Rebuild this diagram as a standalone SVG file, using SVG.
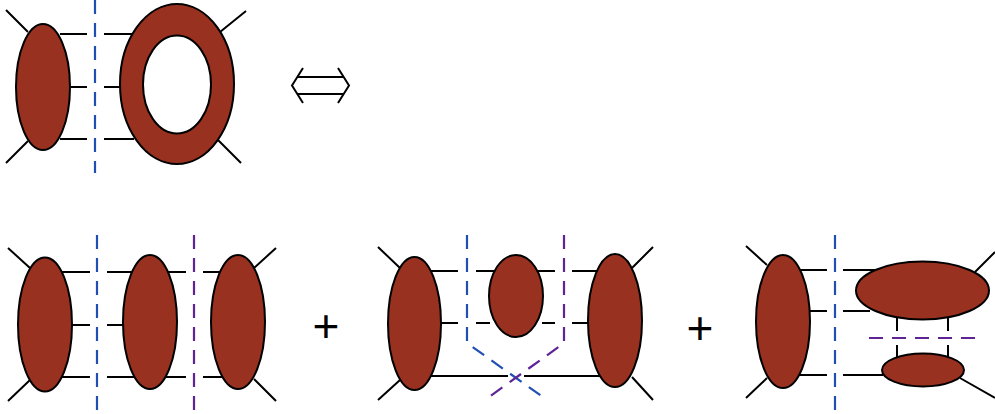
<svg xmlns="http://www.w3.org/2000/svg" width="995" height="414" viewBox="0 0 995 414">
<style>
.blob{fill:#98311f;stroke:#000;stroke-width:2}
.hole{fill:#fff;stroke:#000;stroke-width:2}
.ln{stroke:#000;stroke-width:2;fill:none}
.cb{stroke:#1f4fb3;stroke-width:2.2;fill:none;stroke-dasharray:14 9}
.cp{stroke:#5e2496;stroke-width:2.2;fill:none;stroke-dasharray:14 9}
.plus{font-family:"Liberation Sans",Arial,sans-serif;font-size:46px;fill:#000;text-anchor:middle}
</style>
<rect width="995" height="414" fill="#fff"/>
<g id="connectors">
<!-- top diagram -->
<path class="ln" d="M6 10L28 32M28 141L6 163M220 32L246 11M218 140L241 163"/>
<path class="ln" d="M60 34H87M104 34H134M69 87H87M104 87H121M60 139H87M104 139H134"/>
<!-- equivalence arrow -->
<path class="ln" d="M303 68L292 85.5L303 103M338 68L349 85.5L338 103M297 77H344M297 94H344"/>
<!-- bottom left -->
<path class="ln" d="M8 248L30 268M30 380L8 401M254 268L276 248M254 379L276 401"/>
<path class="ln" d="M60 272H90M107 272H135M165 272H186M203 272H222M71 325H90M107 325H124M60 377H90M107 377H135M165 377H186M203 377H222"/>
<!-- bottom middle -->
<path class="ln" d="M378 247L400 268M400 380L378 400M632 268L653 247M632 377L653 400"/>
<path class="ln" d="M430 271H458M476 271H494M538 271H555M572 271H600M440 323H458M476 323H490M542 323H555M572 323H589M430 376H508M524 376H600"/>
<!-- bottom right -->
<path class="ln" d="M746 246L767 265M767 378L746 398M975 272L995 252M960 378L995 398"/>
<path class="ln" d="M798 270H827M843 270H880M809 311H827M843 311H870M798 375H827M843 375H883"/>
<path class="ln" d="M897 317V331M897 345V357M948 317V331M948 345V357"/>
<!-- cuts -->
<path class="cb" d="M95 0V173"/>
<path class="cb" d="M97 235V414"/>
<path class="cp" d="M194 235V414"/>
<path class="cb" d="M467 235V343L547 400"/>
<path class="cp" d="M564 235V343L485 400"/>
<path class="cb" d="M835 235V414"/>
<path class="cp" d="M869 338H977"/>
</g>
<g id="top-left-blob"><ellipse class="blob" cx="43" cy="87" rx="27" ry="63"/></g>
<g id="top-ring"><ellipse class="blob" cx="177" cy="84" rx="57" ry="80"/><ellipse class="hole" cx="177" cy="84.5" rx="34" ry="49"/></g>
<g id="bl-1"><ellipse class="blob" cx="45" cy="324.5" rx="27" ry="67"/></g>
<g id="bl-2"><ellipse class="blob" cx="150" cy="322" rx="27" ry="67"/></g>
<g id="bl-3"><ellipse class="blob" cx="238" cy="322" rx="27" ry="67"/></g>
<g id="plus-1"><text class="plus" x="326" y="342">+</text></g>
<g id="bm-1"><ellipse class="blob" cx="414.5" cy="323.5" rx="26.5" ry="66.5"/></g>
<g id="bm-2"><ellipse class="blob" cx="516" cy="296" rx="27" ry="41"/></g>
<g id="bm-3"><ellipse class="blob" cx="615" cy="320.5" rx="27" ry="66.5"/></g>
<g id="plus-2"><text class="plus" x="700" y="344">+</text></g>
<g id="br-1"><ellipse class="blob" cx="783" cy="321.5" rx="27" ry="66.5"/></g>
<g id="br-2"><ellipse class="blob" cx="922.5" cy="290.5" rx="66.5" ry="29"/></g>
<g id="br-3"><ellipse class="blob" cx="923" cy="370" rx="41" ry="16.5"/></g>
</svg>
